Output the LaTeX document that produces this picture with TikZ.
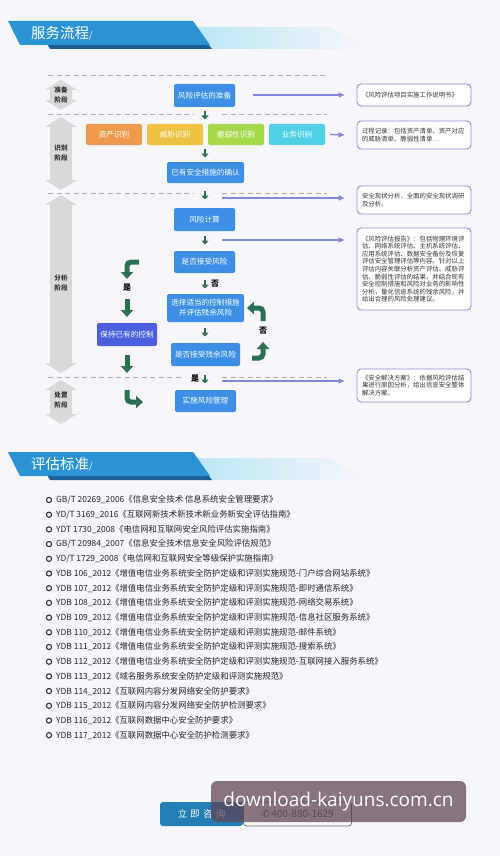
\documentclass[tikz,border=0pt]{standalone}
\usepackage{fontspec}
\setmainfont{Noto Sans CJK SC}
\newfontfamily\dejavu{DejaVu Sans}
\newfontfamily\wmfont{Open Sans}
\usetikzlibrary{arrows.meta,calc}
\definecolor{bg}{HTML}{F6F6FB}
\definecolor{bblue}{HTML}{3D8FE6}
\definecolor{indig}{HTML}{4C5FDC}
\definecolor{orng}{HTML}{EE9A4C}
\definecolor{yllw}{HTML}{EFC245}
\definecolor{grn}{HTML}{A6D94A}
\definecolor{cyn}{HTML}{4FD0E4}
\definecolor{garr}{HTML}{2A7054}
\definecolor{pcol}{HTML}{8088D8}
\definecolor{notebd}{HTML}{8C8CD8}
\definecolor{stg}{HTML}{D9D9DC}
\definecolor{hblue}{HTML}{2A93D3}
\definecolor{hdark}{HTML}{1D5E96}
\definecolor{cyanl}{HTML}{B6E5F3}
\definecolor{txt}{HTML}{333333}
\definecolor{wm}{HTML}{5E4352}
\newcommand\stagearr[2]{%
  \fill[stg] (61,#1) -- (77,#1+10) -- (72,#1+10) -- (72,#2-10) -- (77,#2-10) -- (61,#2)
    -- (45,#2-10) -- (50,#2-10) -- (50,#1+10) -- (45,#1+10) -- cycle;}
\newcommand\banner[1]{%
  \shade[left color=cyanl, right color=bg] (185,#1+6) -- (330,#1+6) -- (368,#1+28) -- (200,#1+28) -- cycle;
  \fill[hdark] (45,#1+19) -- (205,#1+19) -- (212,#1+28) -- (50,#1+28) -- cycle;
  \fill[hblue] (8,#1) -- (193,#1) -- (210,#1+24) -- (20,#1+24) -- cycle;}
\begin{document}
\begin{tikzpicture}[x=1pt,y=-1pt,
  box/.style={fill=bblue, text=white, rounded corners=2pt, inner sep=0pt, align=center,
    font=\fontsize{7.6}{10}\selectfont},
  note/.style={draw=notebd, line width=0.9pt, fill=white, rounded corners=4pt, inner sep=5pt,
    text=txt, align=left, text width=104pt, minimum width=114pt,
    font=\fontsize{6.4}{7.6}\selectfont},
  stagetxt/.style={text=txt, align=center, font=\fontsize{6.6}{10}\selectfont\bfseries},
  smallarr/.style={draw=garr, line width=2.2pt, -{Triangle[width=7pt,length=4pt]}},
  bigarr/.style={draw=garr, line width=5pt, rounded corners=4pt, -{Triangle[width=12pt,length=7pt]}},
  parr/.style={draw=pcol, line width=1.3pt, -{Triangle[width=5pt,length=6pt]}},
  dline/.style={draw=gray!65, dash pattern=on 5pt off 3.5pt, line width=0.7pt},
  lbl/.style={text=black, font=\fontsize{8}{10}\selectfont\bfseries},
  item/.style={anchor=west, text=black!85, inner sep=0pt, font=\fontsize{8.4}{10}\selectfont},
]
\fill[bg] (0,0) rectangle (500,856);
\useasboundingbox (0,0) rectangle (500,856);

% ---------- header 1
\banner{21}
\node[anchor=west, text=white, inner sep=0pt, font=\fontsize{14.5}{16}\selectfont] (t1) at (31,33) {服务流程\fontsize{9}{10}\selectfont/};

% ---------- dashed separators
\draw[dline] (48,75) -- (327,75);
\draw[dline] (48,114) -- (193,114);
\draw[dline] (222,114) -- (327,114);
\draw[dline] (48,193) -- (193,193);
\draw[dline] (222,193) -- (327,193);
\draw[dline] (48,377) -- (183,377);
\draw[dline] (222,377) -- (327,377);

% ---------- stage arrows
\stagearr{80}{110}
\stagearr{117}{190}
\stagearr{195}{373}
\stagearr{380}{424}
\node[stagetxt] (s1) at (61,95) {准备\\阶段};
\node[stagetxt] (s2) at (61,153) {识别\\阶段};
\node[stagetxt] (s3) at (61,283) {分析\\阶段};
\node[stagetxt] (s4) at (61,400) {处置\\阶段};

% ---------- flow boxes
\node[box, minimum width=61pt, minimum height=23pt] (prep) at (204.5,95.5) {风险评估的准备};
\node[box, fill=orng, minimum width=56pt, minimum height=21pt] (r1) at (114,134.5) {资产识别};
\node[box, fill=yllw, minimum width=56pt, minimum height=21pt] (r2) at (175,134.5) {威胁识别};
\node[box, fill=grn, minimum width=56pt, minimum height=21pt] (r3) at (236,134.5) {脆弱性识别};
\node[box, fill=cyn, minimum width=56pt, minimum height=21pt] (r4) at (297,134.5) {业务识别};
\node[box, minimum width=77pt, minimum height=21pt] (conf) at (205.5,172.5) {已有安全措施的确认};
\node[box, minimum width=61pt, minimum height=23pt] (calc) at (204.5,219.5) {风险计算};
\node[box, minimum width=61pt, minimum height=22pt] (acc) at (204.5,262) {是否接受风险};
\node[box, minimum width=77pt, minimum height=28pt] (sel) at (205.5,308) {选择适当的控制措施\\并评估残余风险};
\node[box, minimum width=69pt, minimum height=23pt] (res) at (205.5,354.5) {是否接受残余风险};
\node[box, minimum width=61pt, minimum height=22pt] (impl) at (205.5,401) {实施风险管理};
\node[box, fill=indig, minimum width=60pt, minimum height=23pt] (keep) at (127,334.5) {保持已有的控制};

% ---------- small flow arrows
\draw[smallarr] (205,111) -- (205,119.5);
\draw[smallarr] (205,149) -- (205,157.5);
\draw[smallarr] (205,191) -- (205,199.5);
\draw[smallarr] (205,236) -- (205,244.5);
\draw[smallarr] (205,280) -- (205,288.5);
\draw[smallarr] (205,328) -- (205,336.5);
\draw[smallarr] (205,375) -- (205,383.5);
\node[lbl] (no1) at (215,284) {否};
\node[lbl] (yes2) at (195,379) {是};

% ---------- big green arrows
\draw[bigarr] (139,262) -- (127,262) -- (127,279);
\node[lbl] (yes1) at (127,288) {是};
\draw[bigarr] (127,299) -- (127,317);
\draw[bigarr] (127,355) -- (127,373);
\draw[bigarr] (127,390) -- (127,402) -- (143,402);
\draw[bigarr] (263,321) -- (263,308) -- (247,308);
\node[lbl] (no2) at (263,331) {否};
\draw[bigarr] (252,358) -- (263,358) -- (263,342);

% ---------- notes
\node[note, minimum height=22pt] (n1) at (414,95) {《风险评估项目实施工作说明书》};
\node[note, minimum height=28pt] (n2) at (414,135) {过程记录：包括资产清单、资产对应\\的威胁清单、脆弱性清单…};
\node[note, minimum height=28pt] (n3) at (414,200) {安全现状分析，全面的安全现状调研\\及分析。};
\node[note, minimum height=82pt] (n4) at (414,269) {《风险评估报告》：包括物理环境评\\估、网络系统评估、主机系统评估、\\应用系统评估、数据安全备份及恢复\\评估安全管理评估等内容。针对以上\\评估内容关联分析资产评估、威胁评\\估、脆弱性评估的结果，并结合现有\\安全控制措施和风险对业务的影响性\\分析，量化信息系统的残余风险，并\\给出合理的风险处理建议。};
\node[note, minimum height=33pt] (n5) at (414,385.5) {《安全解决方案》：依据风险评估结\\果进行原因分析，给出信息安全整体\\解决方案。};

% ---------- purple arrows
\coordinate (a1) at (253,95);
\coordinate (a3) at (222,198);
\coordinate (a4) at (222,240);
\coordinate (a5) at (222,381);
\draw[parr] (a1) -- (a1 -| {$(n1.west)+(-12,0)$});
\draw[parr] ($(r4.east)+(5,0)$) -- ($(n2.west)+(-12,0)$);
\draw[parr] (a3) -- (a3 -| {$(n3.west)+(-12,0)$});
\draw[parr] (a4) -- (a4 -| {$(n4.west)+(-12,0)$});
\draw[parr] (a5) -- (a5 -| {$(n5.west)+(-12,0)$});

% ---------- header 2
\banner{452}
\node[anchor=west, text=white, inner sep=0pt, font=\fontsize{14.5}{16}\selectfont] (t2) at (31,464) {评估标准\fontsize{9}{10}\selectfont/};

% ---------- list
\foreach \t [count=\i from 0] in {
GB/T 20269\_2006《信息安全技术 信息系统安全管理要求》,
YD/T 3169\_2016《互联网新技术新技术新业务新安全评估指南》,
YDT 1730\_2008《电信网和互联网安全风险评估实施指南》,
GB/T 20984\_2007《信息安全技术信息安全风险评估规范》,
YD/T 1729\_2008《电信网和互联网安全等级保护实施指南》,
YDB 106\_2012《增值电信业务系统安全防护定级和评测实施规范-门户综合网站系统》,
YDB 107\_2012《增值电信业务系统安全防护定级和评测实施规范-即时通信系统》,
YDB 108\_2012《增值电信业务系统安全防护定级和评测实施规范-网络交易系统》,
YDB 109\_2012《增值电信业务系统安全防护定级和评测实施规范-信息社区服务系统》,
YDB 110\_2012《增值电信业务系统安全防护定级和评测实施规范-邮件系统》,
YDB 111\_2012《增值电信业务系统安全防护定级和评测实施规范-搜索系统》,
YDB 112\_2012《增值电信业务系统安全防护定级和评测实施规范-互联网接入服务系统》,
YDB 113\_2012《域名服务系统安全防护定级和评测实施规范》,
YDB 114\_2012《互联网内容分发网络安全防护要求》,
YDB 115\_2012《互联网内容分发网络安全防护检测要求》,
YDB 116\_2012《互联网数据中心安全防护要求》,
YDB 117\_2012《互联网数据中心安全防护检测要求》}{
  \draw[black!80, line width=1.1pt] (49,500+14.7*\i) circle (2.6pt);
  \node[item] (li\i) at (56,500+14.7*\i) {\t};
}

% ---------- bottom button
\node[fill=hblue!85!black, rounded corners=3pt, minimum width=83pt, minimum height=24pt, inner sep=0pt,
  text=white, font=\fontsize{9.5}{11}\selectfont] (btn) at (201.5,814) {立\,\,即\,\,咨\,\,询};
\node[draw=gray!80!black, line width=0.7pt, rounded corners=3pt, minimum width=108pt, minimum height=24pt,
  inner sep=0pt, text=gray!70!black, font=\fontsize{10}{12}\selectfont, anchor=west] (tel) at (btn.east) {{\dejavu ✆}\,400-880-1629};

% ---------- watermark
\node[fill=wm, fill opacity=0.72, text opacity=1, text=white, rounded corners=6pt,
  minimum width=255pt, minimum height=41pt, inner sep=0pt, font=\wmfont\fontsize{19}{22}\selectfont]
  (wmk) at (338.5,801.5) {download-kaiyuns.com.cn};
\end{tikzpicture}
\end{document}
